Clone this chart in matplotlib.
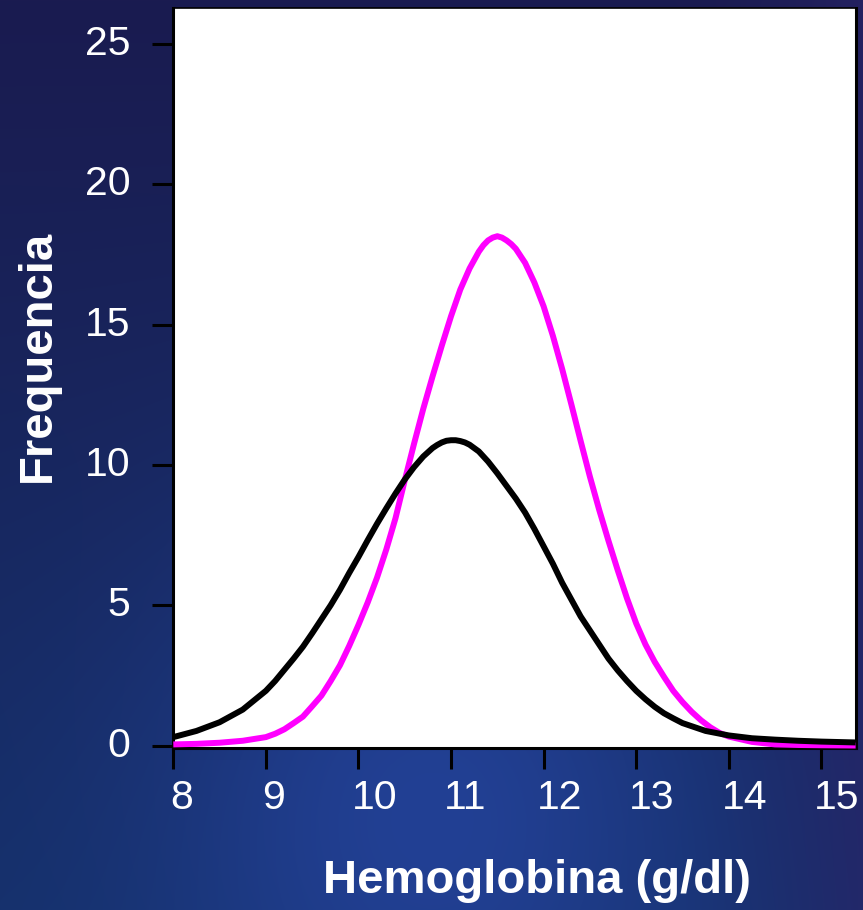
import numpy as np
import matplotlib
matplotlib.use("Agg")
import matplotlib.pyplot as plt
from matplotlib.transforms import ScaledTranslation

plt.rcParams['font.family'] = ['Liberation Sans', 'DejaVu Sans']

# values
black_x = [8.0, 8.25, 8.5, 8.75, 9.0, 9.1, 9.2, 9.3, 9.4, 9.5, 9.6, 9.7, 9.8, 9.9,
           10.0, 10.1, 10.2, 10.3, 10.4, 10.5, 10.6, 10.7, 10.8, 10.85, 10.9, 10.95,
           11.0, 11.05, 11.1, 11.15, 11.2, 11.3, 11.4, 11.5, 11.6, 11.7, 11.8, 11.9,
           12.0, 12.1, 12.2, 12.3, 12.4, 12.5, 12.6, 12.7, 12.8, 12.9,
           13.0, 13.1, 13.2, 13.3, 13.4, 13.5, 13.75, 14.0, 14.25, 14.5, 14.75, 15.0, 15.37]
black_y = [0.30, 0.52, 0.83, 1.28, 1.95, 2.3, 2.7, 3.1, 3.52, 4.0, 4.5, 5.0, 5.55, 6.15,
           6.72, 7.32, 7.9, 8.45, 8.98, 9.48, 9.92, 10.3, 10.6, 10.71, 10.8, 10.86,
           10.88, 10.88, 10.85, 10.8, 10.72, 10.48, 10.12, 9.7, 9.25, 8.8, 8.3, 7.72,
           7.1, 6.48, 5.8, 5.2, 4.6, 4.1, 3.6, 3.1, 2.68, 2.3,
           1.95, 1.65, 1.38, 1.15, 0.97, 0.80, 0.52, 0.36, 0.26, 0.21, 0.17, 0.14, 0.11]

magenta_x = [8.0, 8.25, 8.5, 8.75, 9.0, 9.1, 9.2, 9.3, 9.4, 9.5, 9.6, 9.7, 9.8, 9.9,
             10.0, 10.1, 10.2, 10.3, 10.4, 10.5, 10.6, 10.7, 10.8, 10.9,
             11.0, 11.1, 11.2, 11.3, 11.35, 11.4, 11.45, 11.5, 11.55, 11.6, 11.65, 11.7, 11.8, 11.9,
             12.0, 12.1, 12.2, 12.3, 12.4, 12.5, 12.6, 12.7, 12.8, 12.9,
             13.0, 13.1, 13.2, 13.3, 13.4, 13.5, 13.6, 13.7, 13.8, 13.9,
             14.0, 14.25, 14.5, 14.75, 15.0, 15.37]
magenta_y = [0.04, 0.06, 0.10, 0.17, 0.30, 0.42, 0.58, 0.80, 1.03, 1.40, 1.78, 2.30, 2.86, 3.55,
             4.3, 5.1, 5.98, 6.98, 8.1, 9.45, 10.75, 12.0, 13.15, 14.25,
             15.3, 16.25, 17.0, 17.6, 17.83, 18.0, 18.1, 18.15, 18.1, 18.0, 17.87, 17.7, 17.2, 16.5,
             15.65, 14.6, 13.42, 12.15, 10.85, 9.58, 8.4, 7.3, 6.25, 5.25,
             4.35, 3.6, 2.98, 2.45, 1.95, 1.55, 1.2, 0.9, 0.65, 0.45,
             0.32, 0.13, 0.04, 0.02, 0.01, 0.0]

x_ticks = [8, 9, 10, 11, 12, 13, 14, 15]
y_ticks = [0, 5, 10, 15, 20, 25]

fig = plt.figure(figsize=(8.63, 9.10), dpi=100)

# dark blue slide background
h, w = 910, 863
yy, xx = np.mgrid[0:h, 0:w]
yy = yy / h
xx = xx / w
top = np.array([26, 27, 80]) / 255
bottom = np.array([21, 48, 106]) / 255
glow_col = np.array([34, 64, 148]) / 255
purple = np.array([40, 36, 104]) / 255
bg = (1 - yy)[..., None] * top + yy[..., None] * bottom
g = np.exp(-((xx - 0.5) ** 2 / 0.10 + (yy - 0.9) ** 2 / 0.12))[..., None]
bg = bg * (1 - g) + glow_col * g
r = (np.clip((xx - 0.78) / 0.22, 0, 1) ** 1.5 * 0.7)[..., None]
bg = bg * (1 - r) + purple * r
bax = fig.add_axes([0, 0, 1, 1])
bax.imshow(bg, aspect='auto', extent=[0, 1, 0, 1])
bax.axis('off')

ax = fig.add_axes([173.3 / 863, 1 - 747.5 / 910, (856 - 173.3) / 863, (747.5 - 7.5) / 910])
ax.set_facecolor('white')

ax.plot(magenta_x, magenta_y, color='#FF00FF', lw=4.3, zorder=3, clip_on=False,
        solid_capstyle='butt', solid_joinstyle='round')
ax.plot(black_x, black_y, color='black', lw=4.3, zorder=3.1,
        solid_capstyle='butt', solid_joinstyle='round')

ax.set_xlim(8.0, 15.374)
ax.set_ylim(-0.07, 26.3)

for side in ['left', 'bottom', 'right']:
    ax.spines[side].set_linewidth(2.2)
ax.spines['top'].set_linewidth(1.2)

ax.set_xticks(x_ticks)
ax.set_yticks(y_ticks)
ax.set_xticklabels([str(v) for v in x_ticks])
ax.set_yticklabels([str(v) for v in y_ticks])
ax.tick_params(axis='both', direction='out', length=15, width=2.2, color='black',
               labelcolor='white', labelsize=29.5)
ax.tick_params(axis='x', pad=8)
ax.tick_params(axis='y', pad=16)

for lab in ax.get_xticklabels():
    lab.set_horizontalalignment('left')
    n = len(lab.get_text())
    lab.set_transform(lab.get_transform() + ScaledTranslation(-3.5 * n / 100, 0, fig.dpi_scale_trans))
for lab in ax.get_yticklabels():
    lab.set_transform(lab.get_transform() + ScaledTranslation(0, 4 / 100, fig.dpi_scale_trans))

fig.text(38 / 863, 1 - 356 / 910, 'Frequencia', rotation=90, color='white',
         fontsize=34, fontweight='bold', ha='center', va='center')
fig.text(537 / 863, 1 - 881 / 910, 'Hemoglobina (g/dl)', color='white',
         fontsize=34, fontweight='bold', ha='center', va='center')

fig.savefig('out.png', dpi=100)
